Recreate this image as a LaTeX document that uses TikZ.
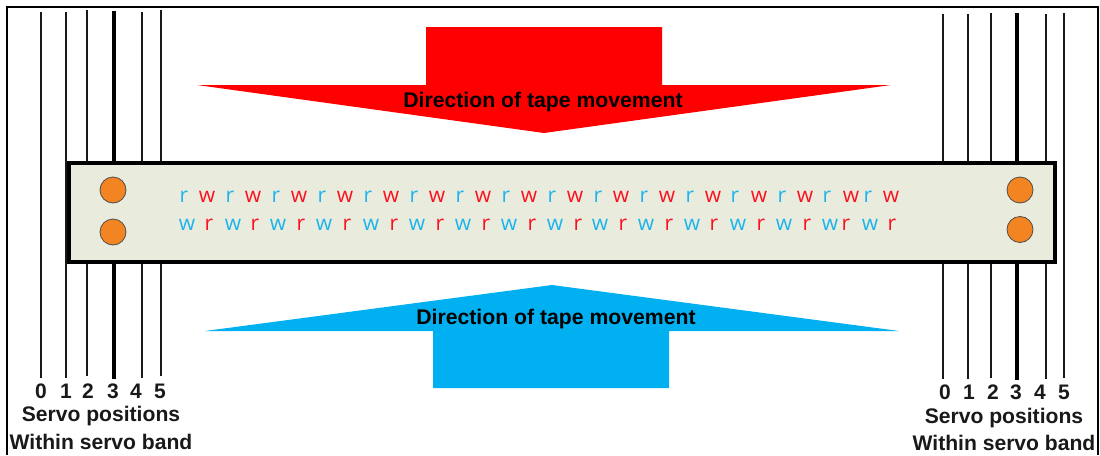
\documentclass[tikz,border=0pt]{standalone}
\usepackage{fontspec}
\setmainfont{Liberation Sans}
\newfontfamily\lettersfont{Open Sans}
\definecolor{tapefill}{HTML}{E9ECDC}
\definecolor{headorange}{HTML}{F28522}
\definecolor{arrowblue}{HTML}{00B0F0}
\definecolor{letterblue}{HTML}{1CB4EC}
\definecolor{letterred}{HTML}{FA1020}
\tikzset{
  servoline/.style={draw=black!90,line width=2.2pt},
  servothick/.style={draw=black,line width=3.4pt},
  frameline/.style={draw=black,line width=2.2pt},
  tapebox/.style={draw=black,fill=tapefill,line width=4pt,line join=miter},
  headdot/.style={circle,draw=black!70,fill=headorange,line width=.8pt,minimum size=26pt,inner sep=0pt},
  dirlabel/.style={font=\fontsize{21.2}{23}\selectfont\bfseries,inner sep=0pt},
  numlabel/.style={font=\fontsize{21}{23}\selectfont\bfseries,inner sep=0pt,text=black!90},
  servolabel/.style={font=\fontsize{21.1}{23}\selectfont\bfseries,inner sep=0pt,text=black!90},
  rw/.style={font=\lettersfont\fontsize{21}{23}\selectfont,inner sep=0pt,anchor=base},
  rb/.style={rw,text=letterblue},
  rr/.style={rw,text=letterred},
}
\begin{document}
\begin{tikzpicture}[x=1pt,y=-1pt]
\useasboundingbox (0,0) rectangle (1100,455);
\fill[white] (0,0) rectangle (1100,455);
\draw[frameline] (7,455) -- (7,7) -- (1098,7) -- (1098,455);
% servo lines
\foreach \x/\t/\b in {41/12/378,66/12/378,87/10/376,142/12/378,161/10/376,
                      943/14/379,968/14/379,991/13/378,1046/14/379,1064/13/378}
  \draw[servoline] (\x,\t) -- (\x,\b);
\draw[servothick] (114,11) -- (114,379);
\draw[servothick] (1017,13) -- (1017,380);
% tape
\draw[tapebox] (69,163) rectangle (1055,262);
% arrows
\fill[red] (426,27) -- (662,27) -- (662,85) -- (891,85) -- (544,133) -- (197,85) -- (426,85) -- cycle;
\fill[arrowblue] (552,285) -- (899,331) -- (669,331) -- (669,388) -- (433,388) -- (433,331) -- (205,331) -- cycle;
\node[dirlabel] (dirtop) at (543,102) {Direction of tape movement};
\node[dirlabel] (dirbot) at (556,319) {Direction of tape movement};
% heads
\node[headdot] (hl1) at (113,190) {};
\node[headdot] (hl2) at (113,232) {};
\node[headdot] (hr1) at (1020,190) {};
\node[headdot] (hr2) at (1020,229.5) {};
% letters row 1
\foreach \x [count=\i] in {184,230,276,322,368,414,460,506,552,598,644,690,735,782,827,868}
  \node[rb] (ta\i) at (\x,202) {r};
\foreach \x [count=\i] in {207,253,299,345,391,437,483,529,575,621,667,713,759,805,851,891}
  \node[rr] (tb\i) at (\x,202) {w};
% letters row 2
\foreach \x [count=\i] in {187,233,278,324,371,417,463,509,555,600,646,692,738,784,830,870}
  \node[rb] (ba\i) at (\x,230) {w};
\foreach \x [count=\i] in {209,255,301,347,394,440,486,532,578,623,669,714,761,807,846,892}
  \node[rr] (bb\i) at (\x,230) {r};
% numbers
\foreach \x/\n in {41/0,66/1,88/2,113/3,136/4,160/5}
  \node[numlabel] (nl\n) at (\x,391) {\n};
\foreach \x/\n in {945/0,969/1,993/2,1016/3,1040/4,1064/5}
  \node[numlabel] (nr\n) at (\x,392) {\n};
\node[servolabel] (sl1) at (101,416) {Servo positions};
\node[servolabel] (sl2) at (101,442) {Within servo band};
\node[servolabel] (sr1) at (1004,418) {Servo positions};
\node[servolabel] (sr2) at (1004,443) {Within servo band};
\end{tikzpicture}
\end{document}
